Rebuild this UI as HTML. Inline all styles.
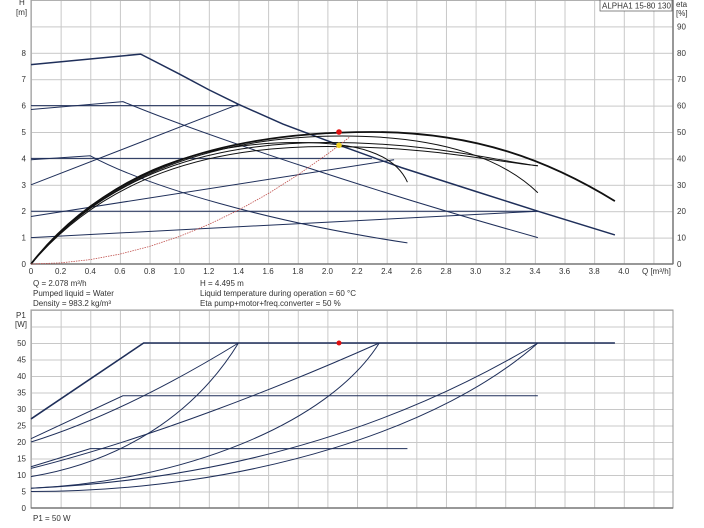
<!DOCTYPE html>
<html><head><meta charset="utf-8"><style>
body{margin:0;background:#fff;}
svg{display:block;font-family:"Liberation Sans",sans-serif;}
text{font-size:8px;fill:#333;}
</style></head><body>
<svg width="704" height="528" viewBox="0 0 704 528" xmlns="http://www.w3.org/2000/svg">
<defs>
<pattern id="gv" x="31" y="0" width="29.64" height="10" patternUnits="userSpaceOnUse"><line x1="0.5" y1="0" x2="0.5" y2="10" stroke="#c8c8c8" stroke-width="1"/></pattern>
<pattern id="gh" x="0" y="264" width="10" height="26.4" patternUnits="userSpaceOnUse"><line x1="0" y1="0.5" x2="10" y2="0.5" stroke="#c8c8c8" stroke-width="1"/></pattern>
<pattern id="gh2" x="0" y="508" width="10" height="16.5" patternUnits="userSpaceOnUse"><line x1="0" y1="0.5" x2="10" y2="0.5" stroke="#c8c8c8" stroke-width="1"/></pattern>
</defs>
<rect x="31" y="0" width="642" height="264" fill="url(#gv)"/>
<rect x="31" y="0" width="642" height="264" fill="url(#gh)"/>
<rect x="31" y="0" width="642" height="264" fill="none" stroke="#999"/>
<line x1="31" y1="264" x2="673" y2="264" stroke="#777" stroke-width="1.5"/>
<line x1="673" y1="0" x2="673" y2="264" stroke="#777" stroke-width="1.5"/>
<rect x="31" y="310" width="642" height="198" fill="url(#gv)"/>
<rect x="31" y="310" width="642" height="198" fill="url(#gh2)"/>
<rect x="31" y="310" width="642" height="198" fill="none" stroke="#999"/>
<line x1="31" y1="508" x2="673" y2="508" stroke="#777" stroke-width="1.5"/>

<text x="19" y="5">H</text><text x="16" y="15">[m]</text>
<g text-anchor="end">
<text x="26" y="267">0</text><text x="26" y="240.6">1</text><text x="26" y="214.2">2</text><text x="26" y="187.8">3</text><text x="26" y="161.4">4</text><text x="26" y="135">5</text><text x="26" y="108.6">6</text><text x="26" y="82.2">7</text><text x="26" y="55.8">8</text>
</g>
<g>
<text x="677" y="267">0</text><text x="677" y="240.6">10</text><text x="677" y="214.2">20</text><text x="677" y="187.8">30</text><text x="677" y="161.4">40</text><text x="677" y="135">50</text><text x="677" y="108.6">60</text><text x="677" y="82.2">70</text><text x="677" y="55.8">80</text><text x="677" y="29.4">90</text>
<text x="676" y="7">eta</text><text x="676" y="16">[%]</text>
</g>
<rect x="600" y="0" width="72" height="11" fill="#fff" stroke="#555" stroke-width="0.7"/>
<text x="602" y="8.5">ALPHA1 15-80 130</text>
<g text-anchor="middle">
<text x="31" y="274">0</text><text x="60.6" y="274">0.2</text><text x="90.3" y="274">0.4</text><text x="119.9" y="274">0.6</text><text x="149.6" y="274">0.8</text><text x="179.2" y="274">1.0</text><text x="208.8" y="274">1.2</text><text x="238.5" y="274">1.4</text><text x="268.1" y="274">1.6</text><text x="297.8" y="274">1.8</text><text x="327.4" y="274">2.0</text><text x="357" y="274">2.2</text><text x="386.7" y="274">2.4</text><text x="416.3" y="274">2.6</text><text x="446" y="274">2.8</text><text x="475.6" y="274">3.0</text><text x="505.2" y="274">3.2</text><text x="534.9" y="274">3.4</text><text x="564.5" y="274">3.6</text><text x="594.2" y="274">3.8</text><text x="623.8" y="274">4.0</text>
</g>
<text x="642" y="274">Q [m³/h]</text>
<text x="33" y="286">Q = 2.078 m³/h</text>
<text x="33" y="296">Pumped liquid = Water</text>
<text x="33" y="306">Density = 983.2 kg/m³</text>
<text x="200" y="286">H = 4.495 m</text>
<text x="200" y="296">Liquid temperature during operation = 60 °C</text>
<text x="200" y="306">Eta pump+motor+freq.converter = 50 %</text>

<g transform="translate(31,264) scale(148.2,-26.4)" fill="none" stroke="#1f2f5a" stroke-width="1">
<polyline vector-effect="non-scaling-stroke" stroke-width="1.5" points="0,7.55 0.74,7.95 1.0,7.2 1.2,6.6 1.4,6.05 1.7,5.3 2.08,4.5 2.5,3.65 3.0,2.75 3.42,2.0 3.94,1.1"/>
<path vector-effect="non-scaling-stroke" d="M0,5.85 L0.62,6.15 C1.2,4.8 2.4,2.6 3.42,1.0"/>
<path vector-effect="non-scaling-stroke" d="M0,3.95 L0.4,4.1 C0.8,2.9 1.6,1.6 2.54,0.8"/>
<polyline vector-effect="non-scaling-stroke" points="0,6 1.4,6"/>
<polyline vector-effect="non-scaling-stroke" points="0,4 2.3,4"/>
<polyline vector-effect="non-scaling-stroke" points="0,2 3.42,2"/>
<polyline vector-effect="non-scaling-stroke" points="0,3 1.4,6.05"/>
<polyline vector-effect="non-scaling-stroke" points="0,1.8 2.45,3.95"/>
<polyline vector-effect="non-scaling-stroke" points="0,1 3.42,2"/>
<g stroke="#111">
<path vector-effect="non-scaling-stroke" stroke-width="1.8" d="M0,0 C0.5,3.6 1.3,5.0 2.3,5.0 C3.0,5.0 3.5,3.9 3.94,2.38"/>
<path vector-effect="non-scaling-stroke" d="M0,0 C0.5,3.4 1.1,4.6 1.8,4.6 C2.2,4.6 2.45,4.2 2.54,3.1"/>
<path vector-effect="non-scaling-stroke" d="M0,0 C0.5,3.5 1.3,4.85 2.1,4.85 C2.8,4.85 3.2,3.9 3.42,2.7"/>
<path vector-effect="non-scaling-stroke" d="M0,0 C0.5,3.4 1.2,4.6 2.0,4.6 C2.7,4.6 3.1,3.95 3.42,3.72"/>
<path vector-effect="non-scaling-stroke" d="M0,0 C0.5,3.3 1.2,4.45 2.0,4.45 C2.7,4.45 3.1,3.9 3.42,3.72"/>
</g>
<polyline vector-effect="non-scaling-stroke" stroke="#c0504d" stroke-width="0.8" stroke-dasharray="1.5,1" points="0,0 0.2,0.042 0.4,0.167 0.6,0.375 0.8,0.666 1.0,1.041 1.2,1.5 1.4,2.04 1.6,2.665 1.8,3.373 2.0,4.164 2.078,4.495 2.15,4.81"/>
</g>
<circle cx="339" cy="132" r="2.8" fill="#e01010"/>
<circle cx="339" cy="145.3" r="2.8" fill="#f0d020"/>

<text x="16" y="318">P1</text><text x="15" y="327">[W]</text>
<g text-anchor="end">
<text x="26" y="511">0</text><text x="26" y="494.5">5</text><text x="26" y="478">10</text><text x="26" y="461.5">15</text><text x="26" y="445">20</text><text x="26" y="428.5">25</text><text x="26" y="412">30</text><text x="26" y="395.5">35</text><text x="26" y="379">40</text><text x="26" y="362.5">45</text><text x="26" y="346">50</text>
</g>
<text x="33" y="521">P1 = 50 W</text>

<g transform="translate(31,508) scale(148.2,-3.3)" fill="none" stroke="#1f2f5a" stroke-width="1">
<polyline vector-effect="non-scaling-stroke" stroke-width="1.6" points="0,27 0.76,50 3.94,50"/>
<polyline vector-effect="non-scaling-stroke" points="0,21 0.62,34 3.42,34"/>
<path vector-effect="non-scaling-stroke" d="M0,20 C0.5,27 1.0,39 1.4,50"/>
<polyline vector-effect="non-scaling-stroke" points="0,12.5 0.4,18 2.54,18"/>
<path vector-effect="non-scaling-stroke" d="M0,9.5 C0.6,14 1.1,28 1.4,50"/>
<path vector-effect="non-scaling-stroke" d="M0,12 C0.8,21 1.7,37 2.35,50"/>
<path vector-effect="non-scaling-stroke" d="M0,6 C1.0,8 2.0,25 2.35,50"/>
<path vector-effect="non-scaling-stroke" d="M0,6 C1.5,9 2.6,28 3.42,50"/>
<path vector-effect="non-scaling-stroke" d="M0,5 C1.5,5 2.8,25 3.42,50"/>
</g>
<circle cx="339" cy="343" r="2.5" fill="#e01010"/>
</svg>
</body></html>
